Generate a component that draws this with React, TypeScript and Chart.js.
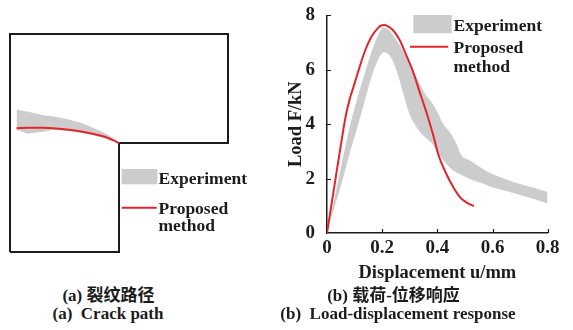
import React, { useEffect, useRef } from 'react';
import { Chart, registerables } from 'chart.js';

Chart.register(...registerables);

// ---------- Data: (a) crack path on the L-shaped specimen (mm) ----------
const specimenOutlineX = [0, 0, 500, 500, 250, 250, 0];
const specimenOutlineY = [0, 500, 500, 250, 250, 0, 0];
const crackBandX = [15, 40, 70, 100, 130, 160, 190, 215, 235, 248];
const crackBandTop = [327, 322, 315, 311, 305, 297, 285, 274, 262, 251];
const crackBandBottom = [281, 272, 275, 280, 278, 274, 268, 262, 255, 251];
const crackPathX = [15, 40, 70, 100, 130, 160, 190, 215, 235, 250];
const crackPathY = [284, 285, 285, 284, 281, 277, 271, 265, 257, 250];

// ---------- Data: (b) load-displacement response ----------
const expDisp = [0, 0.02, 0.05, 0.08, 0.11, 0.14, 0.17, 0.2, 0.22, 0.24, 0.26, 0.28, 0.3, 0.32, 0.34, 0.36, 0.38, 0.4, 0.42, 0.45, 0.47, 0.49, 0.52, 0.56, 0.6, 0.65, 0.7, 0.75, 0.8];
const expLoadUpper = [0, 0.95, 2.4, 3.8, 4.95, 5.97, 6.9, 7.54, 7.5, 7.26, 6.96, 6.6, 6.2, 5.8, 5.4, 5.05, 4.8, 4.45, 4.03, 3.64, 3.26, 2.81, 2.66, 2.39, 2.17, 1.97, 1.8, 1.66, 1.5];
const expLoadLower = [0, 0.72, 1.72, 2.85, 3.88, 4.98, 6.0, 6.62, 6.6, 6.3, 5.72, 5.0, 4.35, 3.96, 3.68, 3.48, 3.3, 3.0, 2.7, 2.35, 2.22, 2.12, 1.98, 1.84, 1.68, 1.54, 1.4, 1.25, 1.08];
const modelDisp = [0, 0.031, 0.058, 0.07, 0.083, 0.1, 0.115, 0.138, 0.163, 0.188, 0.2, 0.212, 0.237, 0.262, 0.286, 0.311, 0.336, 0.36, 0.385, 0.404, 0.428, 0.459, 0.484, 0.508, 0.533];
const modelLoad = [0, 2.0, 3.72, 4.4, 4.95, 5.5, 6.0, 6.7, 7.25, 7.57, 7.64, 7.64, 7.48, 7.12, 6.57, 5.96, 5.18, 4.45, 3.6, 2.87, 2.27, 1.66, 1.29, 1.11, 0.99];

const xTickValues = [0, 0.2, 0.4, 0.6, 0.8];
const yTickValues = [0, 2, 4, 6, 8];

const legendLabels = ['Experiment', 'Proposed', 'method'];
const xAxisTitle = 'Displacement u/mm';
const yAxisTitle = 'Load F/kN';
const captionA = ['(a) 裂纹路径', '(a)  Crack path'];
const captionB = ['(b) 载荷-位移响应', '(b)  Load-displacement response'];

const SERIF = "'Liberation Serif', 'Times New Roman', serif";
const CAPTION_FONT = "'Liberation Serif', 'Noto Sans CJK SC', serif";
const GRAY = '#cccccc';
const RED = '#e2252b';
const INK = '#1c1c1c';

const pts = (xs: number[], ys: number[]) => xs.map((x, i) => ({ x, y: ys[i] }));

type LegendCfg = {
  rect: [number, number, number, number];
  textX: number;
  expBase: number;
  lineX1: number;
  lineX2: number;
  lineY: number;
  propBase: number;
  methodBase: number;
  size: number;
};

const makeLegend = (c: LegendCfg) => ({
  id: 'customLegend',
  afterDraw(chart: any) {
    const ctx = chart.ctx as CanvasRenderingContext2D;
    ctx.save();
    ctx.fillStyle = GRAY;
    ctx.fillRect(c.rect[0], c.rect[1], c.rect[2], c.rect[3]);
    ctx.strokeStyle = RED;
    ctx.lineWidth = 2;
    ctx.beginPath();
    ctx.moveTo(c.lineX1, c.lineY);
    ctx.lineTo(c.lineX2, c.lineY);
    ctx.stroke();
    ctx.fillStyle = INK;
    ctx.font = `bold ${c.size}px ${SERIF}`;
    ctx.textAlign = 'left';
    ctx.textBaseline = 'alphabetic';
    ctx.fillText(legendLabels[0], c.textX, c.expBase);
    ctx.fillText(legendLabels[1], c.textX, c.propBase);
    ctx.fillText(legendLabels[2], c.textX, c.methodBase);
    ctx.restore();
  },
});

const innerTicks = {
  id: 'innerTicks',
  afterDraw(chart: any) {
    const ctx = chart.ctx as CanvasRenderingContext2D;
    const xs = chart.scales.x;
    const ys = chart.scales.y;
    ctx.save();
    ctx.strokeStyle = INK;
    ctx.lineWidth = 1.2;
    ctx.beginPath();
    xTickValues.slice(1).forEach((v) => {
      const px = Math.round(xs.getPixelForValue(v)) + 0.5;
      ctx.moveTo(px, ys.bottom);
      ctx.lineTo(px, ys.bottom - 4);
    });
    yTickValues.slice(1).forEach((v) => {
      const py = Math.round(ys.getPixelForValue(v)) + 0.5;
      ctx.moveTo(xs.left, py);
      ctx.lineTo(xs.left + 4, py);
    });
    ctx.stroke();
    ctx.restore();
  },
};

function CrackPanel() {
  const ref = useRef<HTMLCanvasElement>(null);
  useEffect(() => {
    if (!ref.current) return;
    const chart = new Chart(ref.current, {
      type: 'line',
      data: {
        datasets: [
          {
            data: pts(crackPathX, crackPathY),
            borderColor: RED,
            borderWidth: 2,
            pointRadius: 0,
            tension: 0.4,
            fill: false,
          },
          {
            data: pts(crackBandX, crackBandTop),
            borderWidth: 0,
            borderColor: GRAY,
            backgroundColor: GRAY,
            pointRadius: 0,
            tension: 0.2,
            fill: '+1',
          },
          {
            data: pts(crackBandX, crackBandBottom),
            borderWidth: 0,
            borderColor: GRAY,
            backgroundColor: GRAY,
            pointRadius: 0,
            tension: 0.2,
            fill: false,
          },
          {
            data: pts(specimenOutlineX, specimenOutlineY),
            borderColor: INK,
            borderWidth: 2,
            pointRadius: 0,
            tension: 0,
            fill: false,
            clip: false as any,
          },
        ],
      },
      options: {
        responsive: false,
        animation: false,
        devicePixelRatio: 1,
        layout: { padding: { left: 10, top: 34, right: 32, bottom: 28 } },
        plugins: { legend: { display: false }, tooltip: { enabled: false } },
        scales: {
          x: { type: 'linear', min: 0, max: 500, display: false },
          y: { type: 'linear', min: 0, max: 500, display: false },
        },
      },
      plugins: [
        makeLegend({
          rect: [121.7, 169, 35.6, 15.3],
          textX: 158.5,
          expBase: 183.5,
          lineX1: 121.7,
          lineX2: 156.7,
          lineY: 207.7,
          propBase: 213.5,
          methodBase: 231,
          size: 17.5,
        }),
      ],
    });
    return () => chart.destroy();
  }, []);
  return (
    <canvas
      ref={ref}
      width={260}
      height={280}
      style={{ position: 'absolute', left: 0, top: 0, width: 260, height: 280 }}
    />
  );
}

function LoadPanel() {
  const ref = useRef<HTMLCanvasElement>(null);
  useEffect(() => {
    if (!ref.current) return;
    const tickFont = { family: SERIF, size: 19, weight: 'bold' as const };
    const titleFont = { family: SERIF, size: 18.5, weight: 'bold' as const, lineHeight: 1.2 };
    const chart = new Chart(ref.current, {
      type: 'line',
      data: {
        datasets: [
          {
            data: pts(modelDisp, modelLoad),
            borderColor: RED,
            borderWidth: 2,
            pointRadius: 0,
            tension: 0.3,
            fill: false,
          },
          {
            data: pts(expDisp, expLoadUpper),
            borderWidth: 0,
            borderColor: GRAY,
            backgroundColor: GRAY,
            pointRadius: 0,
            tension: 0.3,
            fill: '+1',
          },
          {
            data: pts(expDisp, expLoadLower),
            borderWidth: 0,
            borderColor: GRAY,
            backgroundColor: GRAY,
            pointRadius: 0,
            tension: 0.3,
            fill: false,
          },
        ],
      },
      options: {
        responsive: false,
        animation: false,
        devicePixelRatio: 1,
        layout: { padding: { left: 0, top: 12.7, right: 25.3, bottom: 0 } },
        plugins: { legend: { display: false }, tooltip: { enabled: false } },
        scales: {
          x: {
            type: 'linear',
            min: 0,
            max: 0.8,
            afterBuildTicks: (s: any) => {
              s.ticks = xTickValues.map((value) => ({ value }));
            },
            afterFit: (s: any) => {
              s.height = 57;
            },
            grid: { display: false },
            border: { display: true, color: INK, width: 1.5 },
            ticks: {
              font: tickFont,
              color: INK,
              padding: -4,
              maxRotation: 0,
              callback: (v: any) => (Number(v) === 0 ? '0' : Number(v).toFixed(1)),
            },
            title: {
              display: true,
              text: xAxisTitle,
              font: titleFont,
              color: INK,
              padding: { top: 0, bottom: 6 },
            },
          },
          y: {
            type: 'linear',
            min: 0,
            max: 8,
            afterBuildTicks: (s: any) => {
              s.ticks = yTickValues.map((value) => ({ value }));
            },
            afterFit: (s: any) => {
              s.width = 47;
            },
            grid: { display: false },
            border: { display: true, color: INK, width: 1.5 },
            ticks: {
              font: tickFont,
              color: INK,
              padding: 4,
              callback: (v: any) => String(v),
            },
            title: {
              display: true,
              text: yAxisTitle,
              font: titleFont,
              color: INK,
              padding: { top: 5, bottom: 0 },
            },
          },
        },
      },
      plugins: [
        innerTicks,
        makeLegend({
          rect: [133.3, 15, 38.4, 18.3],
          textX: 173.5,
          expBase: 30.7,
          lineX1: 130,
          lineX2: 168.3,
          lineY: 46.7,
          propBase: 53.3,
          methodBase: 72.3,
          size: 17.5,
        }),
      ],
    });
    return () => chart.destroy();
  }, []);
  return (
    <canvas
      ref={ref}
      width={293}
      height={290}
      style={{ position: 'absolute', left: 280, top: 0, width: 293, height: 290 }}
    />
  );
}

function Caption({ text, cx, cy }: { text: string; cx: number; cy: number }) {
  return (
    <div
      style={{
        position: 'absolute',
        left: cx - 160,
        width: 320,
        top: cy - 10,
        height: 20,
        lineHeight: '20px',
        textAlign: 'center',
        whiteSpace: 'pre',
        fontFamily: CAPTION_FONT,
        fontWeight: 'bold',
        fontSize: 17,
        color: INK,
      }}
    >
      {text}
    </div>
  );
}

export default function App() {
  return (
    <div
      style={{
        position: 'absolute',
        left: 0,
        top: 0,
        width: 573,
        height: 330,
        background: '#ffffff',
        overflow: 'hidden',
      }}
    >
      <CrackPanel />
      <LoadPanel />
      <Caption text={captionA[0]} cx={108.5} cy={295.5} />
      <Caption text={captionA[1]} cx={108} cy={313.5} />
      <Caption text={captionB[0]} cx={393.5} cy={295.5} />
      <Caption text={captionB[1]} cx={398} cy={313.5} />
    </div>
  );
}
